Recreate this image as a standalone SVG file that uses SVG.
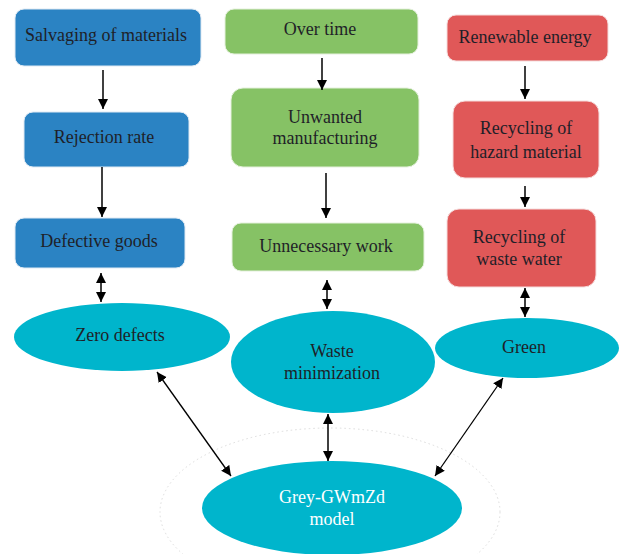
<svg xmlns="http://www.w3.org/2000/svg" width="619" height="554" viewBox="0 0 619 554" font-family="'Liberation Serif', 'Times New Roman', serif">
<defs>
<style>
text{font-family:'Liberation Serif','Times New Roman',serif;font-size:18px;fill:#1f1f28;text-anchor:middle}
.blue{fill:#2b83c3;stroke:#dfe9f3;stroke-width:1}
.green{fill:#86c265;stroke:#e4f0dc;stroke-width:1}
.red{fill:#e05858;stroke:#f5dcdc;stroke-width:1}
.ell{fill:#00b5cc}
.w{fill:#ffffff}
.c{stroke:#000;stroke-width:1.5;fill:none}
.d{stroke:#000;stroke-width:1.3;fill:none}
</style>
<marker id="ah" viewBox="0 0 10 10" refX="10" refY="5" markerWidth="10" markerHeight="12" markerUnits="userSpaceOnUse" orient="auto-start-reverse">
<path d="M0,0 L10,5 L0,10 z" fill="#000"/>
</marker>
<marker id="ah2" viewBox="0 0 10 10" refX="10" refY="5" markerWidth="10" markerHeight="10" markerUnits="userSpaceOnUse" orient="auto-start-reverse">
<path d="M0,0 L10,5 L0,10 z" fill="#000"/>
</marker>
</defs>
<ellipse cx="330" cy="512" rx="170" ry="84" fill="none" stroke="#dcdcdc" stroke-width="1" stroke-dasharray="1.5,3"/>
<g id="salvaging"><rect class="blue" x="15" y="9" width="186" height="57" rx="9"/><text x="106" y="41">Salvaging of materials</text></g>
<g id="rejection"><rect class="blue" x="24" y="112" width="165" height="55" rx="9"/><text x="104" y="143">Rejection rate</text></g>
<g id="defective"><rect class="blue" x="15" y="218" width="170" height="50" rx="9"/><text x="99" y="247">Defective goods</text></g>
<g id="overtime"><rect class="green" x="225" y="9" width="193" height="45" rx="9"/><text x="320" y="35">Over time</text></g>
<g id="unwanted"><rect class="green" x="231" y="88" width="188" height="79" rx="12"/><text x="325" y="123">Unwanted</text><text x="325" y="144">manufacturing</text></g>
<g id="unnecessary"><rect class="green" x="232" y="223" width="192" height="48" rx="9"/><text x="326" y="252">Unnecessary work</text></g>
<g id="renewable"><rect class="red" x="447" y="15" width="161" height="46" rx="9"/><text x="525" y="43">Renewable energy</text></g>
<g id="hazard"><rect class="red" x="453" y="101" width="146" height="77" rx="12"/><text x="526" y="134">Recycling of</text><text x="526" y="158">hazard material</text></g>
<g id="wastewater"><rect class="red" x="447" y="209" width="149" height="78" rx="12"/><text x="519" y="243">Recycling of</text><text x="519" y="265">waste water</text></g>
<g id="zerodefects"><ellipse class="ell" cx="122" cy="337" rx="108" ry="34"/><text x="120" y="341">Zero defects</text></g>
<g id="wasteminimization"><ellipse class="ell" cx="333" cy="362" rx="102" ry="51"/><text x="332" y="357">Waste</text><text x="332" y="379">minimization</text></g>
<g id="green"><ellipse class="ell" cx="527" cy="348" rx="92" ry="30"/><text x="524" y="353">Green</text></g>
<g id="greymodel"><ellipse class="ell" cx="332" cy="508" rx="130" ry="47"/><text class="w" x="332" y="503">Grey-GWmZd</text><text class="w" x="332" y="525">model</text></g>
<g id="connectors">
<line class="c" x1="103" y1="70" x2="103" y2="109" marker-end="url(#ah)"/>
<line class="c" x1="102" y1="167" x2="102" y2="217" marker-end="url(#ah)"/>
<line class="c" x1="322" y1="58" x2="322" y2="90" marker-end="url(#ah)"/>
<line class="c" x1="326" y1="173" x2="326" y2="218" marker-end="url(#ah)"/>
<line class="c" x1="525" y1="66" x2="525" y2="99" marker-end="url(#ah)"/>
<line class="c" x1="525" y1="186" x2="525" y2="207" marker-end="url(#ah)"/>
<line class="c" x1="101" y1="273" x2="101" y2="302" marker-start="url(#ah2)" marker-end="url(#ah2)"/>
<line class="c" x1="327" y1="280" x2="327" y2="309" marker-start="url(#ah2)" marker-end="url(#ah2)"/>
<line class="c" x1="525" y1="288" x2="525" y2="317" marker-start="url(#ah2)" marker-end="url(#ah2)"/>
<line class="c" x1="328" y1="414" x2="328" y2="461" marker-start="url(#ah2)" marker-end="url(#ah2)"/>
<line class="d" x1="157" y1="372" x2="231" y2="476" marker-start="url(#ah)" marker-end="url(#ah)"/>
<line class="d" x1="503" y1="378" x2="435" y2="476" marker-start="url(#ah)" marker-end="url(#ah)"/>
</g>
</svg>
